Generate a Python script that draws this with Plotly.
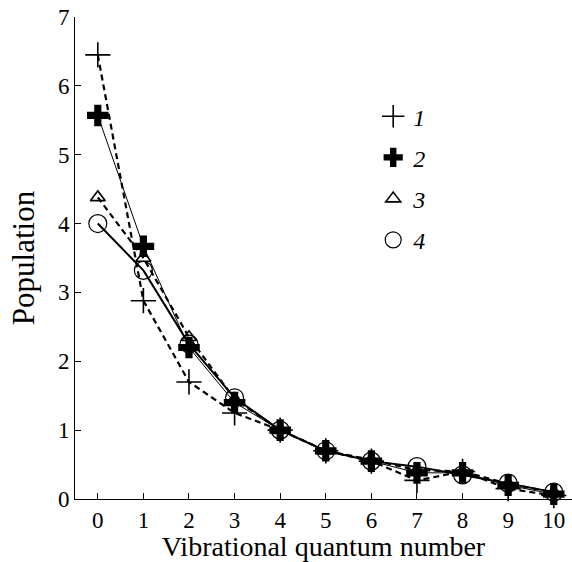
import plotly.graph_objects as go

v = list(range(11))
s1 = [6.45, 2.88, 1.70, 1.25, 1.00, 0.70, 0.55, 0.27, 0.40, 0.15, 0.05]
s2 = [5.57, 3.67, 2.20, 1.40, 1.00, 0.70, 0.55, 0.38, 0.38, 0.20, 0.07]
s3 = [4.38, 3.50, 2.35, 1.45, 1.00, 0.70, 0.57, 0.42, 0.40, 0.22, 0.10]
s4 = [4.00, 3.32, 2.25, 1.47, 1.00, 0.70, 0.55, 0.47, 0.35, 0.23, 0.10]
names = ["1", "2", "3", "4"]

FONT = "Liberation Serif"
fig = go.Figure()

styles = [
    dict(line=dict(color="black", width=2.2, dash="6px,4px"),
         marker=dict(symbol="cross-thin-open", size=18, color="black", line=dict(color="black", width=1.6))),
    dict(line=dict(color="black", width=1.0),
         marker=dict(symbol="cross", size=18, color="black", line=dict(color="black", width=0))),
    dict(line=dict(color="black", width=2.2, dash="6px,4px"),
         marker=dict(symbol="triangle-up-open", size=13, color="black", line=dict(color="black", width=1.6))),
    dict(line=dict(color="black", width=2.0),
         marker=dict(symbol="circle-open", size=18, color="black", line=dict(color="black", width=1.2))),
]

for ys, st in zip([s1, s2, s3, s4], styles):
    fig.add_trace(go.Scatter(x=v, y=ys, mode="lines+markers", line=st["line"],
                             marker=st["marker"], showlegend=False, cliponaxis=False))

for i, (nm, st) in enumerate(zip(names, styles)):
    fig.add_trace(go.Scatter(x=[None], y=[None], mode="markers", marker=st["marker"],
                             name="<i>" + nm + "</i>", legendgroup=nm, showlegend=True))

fig.update_layout(
    width=572, height=562,
    margin=dict(l=75, r=0, t=17, b=63),
    plot_bgcolor="white", paper_bgcolor="white",
    font=dict(family=FONT, size=23, color="black"),
    showlegend=True,
    legend=dict(x=0.6, y=0.84, xanchor="left", yanchor="top", bgcolor="rgba(0,0,0,0)",
                tracegroupgap=7, font=dict(family=FONT, size=24)),
    xaxis=dict(range=[-0.5, 10.4], tickvals=v, ticks="inside", ticklen=6, tickcolor="black",
               showline=True, linecolor="black", linewidth=1, showgrid=False, zeroline=False,
               tickfont=dict(size=23),
               title=dict(text="Vibrational quantum number", standoff=0, font=dict(size=28))),
    yaxis=dict(range=[0, 7], dtick=1, ticks="inside", ticklen=6, tickcolor="black",
               showline=True, linecolor="black", linewidth=1, showgrid=False, zeroline=False,
               tickfont=dict(size=23),
               title=dict(text="Population", standoff=14, font=dict(size=31))),
)

fig.write_html("out.html")
